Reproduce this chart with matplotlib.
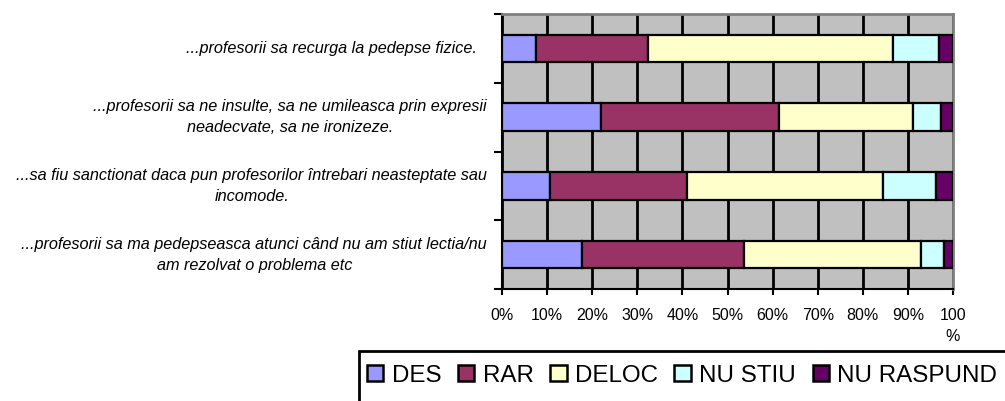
import matplotlib.pyplot as plt
import matplotlib.patches as mpatches
import numpy as np

plt.rcParams['font.family'] = ['Liberation Sans', 'DejaVu Sans']

categories = [
    '...profesorii sa recurga la pedepse fizice.',
    '...profesorii sa ne insulte, sa ne umileasca prin expresii\nneadecvate, sa ne ironizeze.',
    '...sa fiu sanctionat daca pun profesorilor întrebari neasteptate sau\nincomode.',
    '...profesorii sa ma pedepseasca atunci când nu am stiut lectia/nu\nam rezolvat o problema etc',
]
series = ['DES', 'RAR', 'DELOC', 'NU STIU', 'NU RASPUND']
des = [7.5, 22.0, 10.7, 17.7]
rar = [24.9, 39.4, 30.3, 36.0]
deloc = [54.3, 29.7, 43.4, 39.1]
nu_stiu = [10.2, 6.2, 11.8, 5.2]
nu_raspund = [3.1, 2.7, 3.8, 2.0]
colors = ['#9999FF', '#993366', '#FFFFCC', '#CCFFFF', '#660066']
xticklabels = ['0%', '10%', '20%', '30%', '40%', '50%', '60%', '70%', '80%', '90%', '100\n%']

values = np.array([des, rar, deloc, nu_stiu, nu_raspund])

fig = plt.figure(figsize=(10.05, 4.01), dpi=100)
ax = fig.add_axes([502 / 1005, 1 - 289 / 401, 451 / 1005, 275 / 401])
ax.set_facecolor('#C0C0C0')

y = np.arange(len(categories))
left = np.zeros(len(categories))
for vals, name, col in zip(values, series, colors):
    ax.barh(y, vals, left=left, height=0.4, color=col, edgecolor='black',
            linewidth=1.6, label=name, zorder=3)
    left += vals

ax.set_xlim(0, 100)
ax.set_ylim(len(categories) - 0.5, -0.5)
ax.set_xticks(np.arange(0, 101, 10))
ax.set_xticklabels(xticklabels, fontsize=11.5, linespacing=1.45, va='top')
ax.xaxis.grid(True, color='black', linewidth=2, zorder=1)
ax.set_axisbelow(True)
ax.tick_params(axis='x', direction='out', length=4, width=1.5, pad=10)

ax.set_yticks(np.arange(len(categories) + 1) - 0.5)
ax.set_yticklabels([])
ax.tick_params(axis='y', direction='out', length=6, width=1.5)

for s in ['top', 'right']:
    ax.spines[s].set_color('#808080')
    ax.spines[s].set_linewidth(2)
for s in ['left', 'bottom']:
    ax.spines[s].set_color('black')
    ax.spines[s].set_linewidth(1.5)

# category labels, centred blocks sitting left of the axis
pads = [-0.055, -0.033, -0.033, -0.033]
for i, (lab, p) in enumerate(zip(categories, pads)):
    ax.text(p, i, lab, transform=ax.get_yaxis_transform(), ha='right', va='center',
            multialignment='center', fontsize=11.7, style='italic', linespacing=1.5)

# legend box runs off the right and bottom edges of the figure
frame = mpatches.Rectangle((359 / 1005, -0.2), 0.8, 0.2 + 1 - 351 / 401,
                           transform=fig.transFigure, fill=False,
                           edgecolor='black', linewidth=2)
fig.add_artist(frame)

leg = fig.legend(loc='center left', bbox_to_anchor=(367 / 1005, 1 - 375.5 / 401),
                 ncol=5, fontsize=17.4, frameon=False,
                 handlelength=0.68, handleheight=0.68, handletextpad=0.35,
                 columnspacing=0.68, borderaxespad=0, borderpad=0)
for h in leg.legend_handles:
    h.set_linewidth(1.8)

fig.savefig('out.png', dpi=100)
